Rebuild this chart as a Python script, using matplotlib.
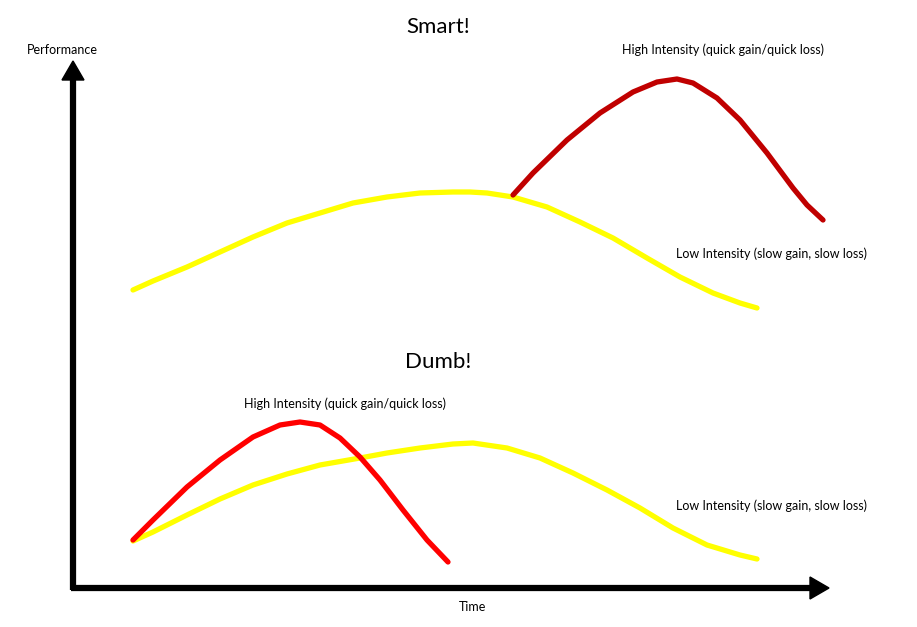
import matplotlib
matplotlib.use("Agg")
import matplotlib.pyplot as plt

plt.rcParams['font.family'] = ['Lato', 'DejaVu Sans']

# curve points (pixel-like units, y grows downwards)
smart_low_x = [133, 153, 187, 220, 253, 287, 320, 353, 387, 420, 453, 470, 487, 513,
               547, 580, 613, 647, 680, 713, 740, 757]
smart_low_y = [290, 281, 267, 252, 237, 223, 213, 203, 197, 193, 192, 192, 193, 197,
               207, 222, 238, 258, 277, 293, 303, 308]
smart_high_x = [513, 533, 567, 600, 633, 657, 677, 693, 717, 740, 767, 793, 807, 823]
smart_high_y = [195, 173, 140, 113, 92, 82, 79, 83, 98, 120, 153, 188, 205, 220]

dumb_low_x = [133, 153, 187, 220, 253, 287, 320, 360, 387, 420, 453, 473, 507, 540,
              573, 607, 640, 673, 707, 740, 757]
dumb_low_y = [541, 532, 515, 499, 485, 474, 465, 458, 453, 448, 444, 443, 448, 458,
              473, 490, 508, 528, 545, 555, 559]
dumb_high_x = [133, 153, 187, 220, 253, 280, 300, 320, 340, 360, 380, 403, 427, 448]
dumb_high_y = [540, 520, 487, 460, 437, 425, 422, 425, 438, 457, 480, 510, 540, 562]

fig = plt.figure(figsize=(9.17, 6.27), dpi=100)
ax = fig.add_axes([0, 0, 1, 1])
ax.set_xlim(0, 917)
ax.set_ylim(627, 0)
ax.axis('off')

lw = 3.8
style = dict(lw=lw, solid_capstyle='round', solid_joinstyle='round')
ax.plot(smart_low_x, smart_low_y, color='#FFFF00', **style)
ax.plot(smart_high_x, smart_high_y, color='#C00000', **style)
ax.plot(dumb_low_x, dumb_low_y, color='#FFFF00', **style)
ax.plot(dumb_high_x, dumb_high_y, color='#FF0000', **style)

# axes arrows
ax.plot([73, 73], [590, 80], color='black', lw=4.5, solid_capstyle='butt')
ax.plot([71, 812], [588, 588], color='black', lw=4.5, solid_capstyle='butt')
ax.fill([62, 84, 73], [80, 80, 61], color='black')
ax.fill([810, 810, 829], [577, 599, 588], color='black')

small = 9
ax.text(438, 27, 'Smart!', fontsize=16, ha='center', va='center')
ax.text(438, 362, 'Dumb!', fontsize=16, ha='center', va='center')
ax.text(62, 50, 'Performance', fontsize=small, ha='center', va='center')
ax.text(473, 607, 'Time', fontsize=small, ha='center', va='center')
ax.text(723, 50, 'High Intensity (quick gain/quick loss)', fontsize=small, ha='center', va='center')
ax.text(676, 254, 'Low Intensity (slow gain, slow loss)', fontsize=small, ha='left', va='center')
ax.text(345, 404, 'High Intensity (quick gain/quick loss)', fontsize=small, ha='center', va='center')
ax.text(676, 506, 'Low Intensity (slow gain, slow loss)', fontsize=small, ha='left', va='center')

fig.savefig('out.png', dpi=100)
